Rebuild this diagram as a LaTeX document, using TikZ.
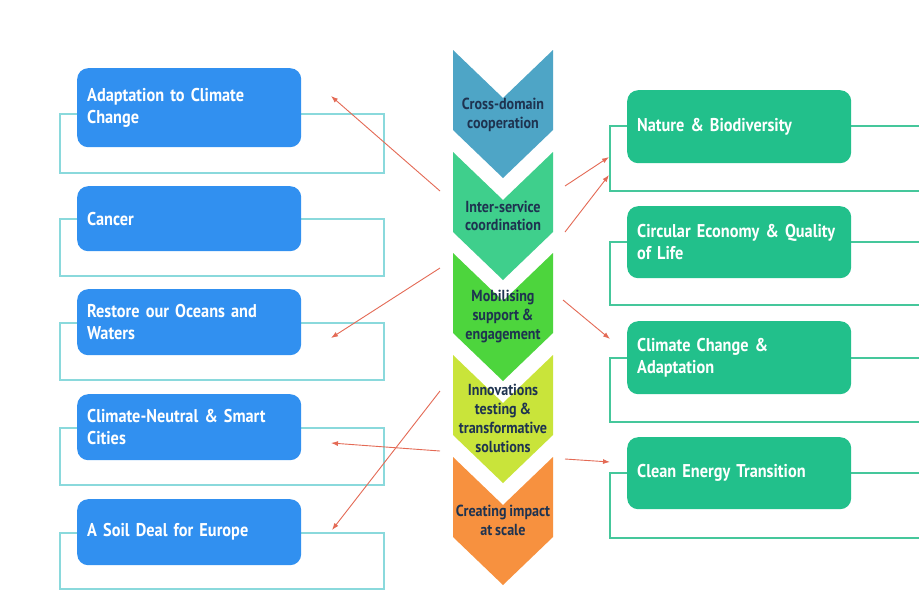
\documentclass[tikz,border=0pt]{standalone}
\usepackage{fontspec}
\setmainfont{PT Sans}[FakeStretch=0.88]
\usetikzlibrary{arrows.meta}
\definecolor{boxblue}{HTML}{3190F0}
\definecolor{boxgreen}{HTML}{22C08B}
\definecolor{lline}{HTML}{8AD9DC}
\definecolor{rline}{HTML}{45C79B}
\definecolor{arr}{HTML}{E46A55}
\definecolor{cA}{HTML}{4EA5C6}
\definecolor{cB}{HTML}{3FCF8C}
\definecolor{cC}{HTML}{4DD53D}
\definecolor{cD}{HTML}{C9E43A}
\definecolor{cE}{HTML}{F7913F}
\definecolor{ctext}{HTML}{1E3350}
\newcommand{\boxfont}{\fontsize{18.5}{22}\selectfont\bfseries\spaceskip=0.2em\relax}
\newcommand{\chevfont}{\fontsize{16}{18.8}\selectfont\bfseries\spaceskip=0.18em\relax}
\begin{document}
\begin{tikzpicture}[x=1pt,y=-1pt,
  lbox/.style={fill=boxblue, rounded corners=11pt, minimum width=224pt, text width=204pt,
    inner xsep=10pt, inner ysep=0pt, align=left, font=\boxfont, text=white, anchor=north west},
  rbox/.style={lbox, fill=boxgreen},
  lframe/.style={draw=lline, line width=1.4pt},
  rframe/.style={draw=rline, line width=1.4pt},
  chevtext/.style={align=center, font=\chevfont, text=ctext, inner sep=0pt},
  link/.style={draw=arr, line width=0.9pt, -{Latex[length=7pt,width=5pt]}}
]
\useasboundingbox (0,0) rectangle (919,606);
\clip (0,0) rectangle (919,606);
\fill[white] (0,0) rectangle (919,606);

% chevrons
\foreach \t/\c in {50/cA,152/cB,253/cC,355/cD,457/cE}{
  \fill[\c] (453,\t) -- (503,\t+48) -- (553,\t) -- (553,\t+80) -- (503,\t+128) -- (453,\t+80) -- cycle;
}
\node[chevtext] (s1) at (503,114.5) {Cross-domain\\cooperation};
\node[chevtext] (s2) at (503,216) {Inter-service\\coordination};
\node[chevtext] (s3) at (503,316.5) {Mobilising\\support \&\\engagement};
\node[chevtext] (s4) at (503,418.5) {Innovations\\testing \&\\transformative\\solutions};
\node[chevtext] (s5) at (503,520.5) {Creating impact\\at scale};

% left frames and boxes
\draw[lframe] (60,114) rectangle (384,173);
\draw[lframe] (60,219) rectangle (384,276);
\draw[lframe] (60,323) rectangle (384,380);
\draw[lframe] (60,428) rectangle (384,485);
\draw[lframe] (60,533) rectangle (384,589);
\node[lbox, minimum height=79pt] (l1) at (77,68) {Adaptation to Climate\\Change};
\node[lbox, minimum height=65pt] (l2) at (77,186) {Cancer};
\node[lbox, minimum height=66pt] (l3) at (77,289) {Restore our Oceans and\\Waters};
\node[lbox, minimum height=66pt] (l4) at (77,394) {Climate-Neutral \& Smart\\Cities};
\node[lbox, minimum height=66pt] (l5) at (77,499) {A Soil Deal for Europe};

% right frames and boxes
\draw[rframe] (610,126) rectangle (935,191);
\draw[rframe] (610,242) rectangle (935,305);
\draw[rframe] (610,358) rectangle (935,422);
\draw[rframe] (610,473) rectangle (935,538);
\node[rbox, minimum height=73pt] (r1) at (627,90) {Nature \& Biodiversity};
\node[rbox, minimum height=72pt] (r2) at (627,206) {Circular Economy \& Quality\\of Life};
\node[rbox, minimum height=73pt] (r3) at (627,321) {Climate Change \&\\Adaptation};
\node[rbox, minimum height=72pt] (r4) at (627,437) {Clean Energy Transition};

% arrow end points
\coordinate (a1s) at (440,191); \coordinate (a1e) at (331,96);
\coordinate (a2s) at (440,268); \coordinate (a2e) at (331,338);
\coordinate (a3s) at (440,451); \coordinate (a3e) at (331,443);
\coordinate (a4s) at (440,391); \coordinate (a4e) at (332,530);
\coordinate (b1s) at (565,186); \coordinate (b1e) at (609,157);
\coordinate (b2s) at (565,232); \coordinate (b2e) at (609,175);
\coordinate (b3s) at (563,300); \coordinate (b3e) at (610,339);
\coordinate (b4s) at (565,459); \coordinate (b4e) at (610,462);
\foreach \p in {a1,a2,a3,a4,b1,b2,b3,b4}{
  \draw[link] (\p s) -- (\p e);
}
\end{tikzpicture}
\end{document}
